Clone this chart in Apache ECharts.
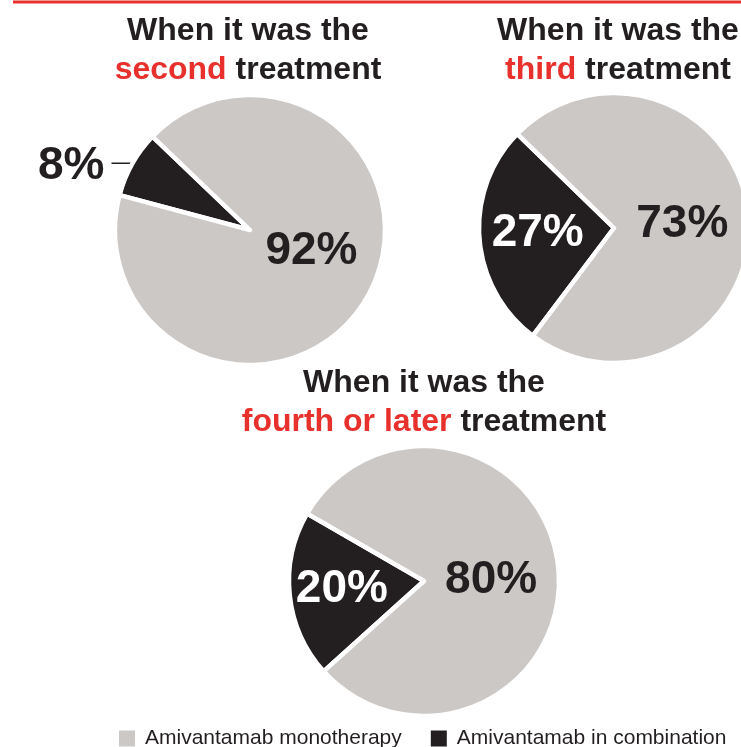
<!DOCTYPE html>
<html>
<head>
<meta charset="utf-8">
<script src="https://cdn.jsdelivr.net/npm/echarts@6/dist/echarts.min.js"></script>
<style>
html,body{margin:0;padding:0;background:#fff;}
#chart{width:741px;height:747px;}
</style>
</head>
<body>
<div id="chart"></div>
<script>
// ---- data ----
const categories = ['Amivantamab monotherapy', 'Amivantamab in combination'];
const secondTreatment = [92, 8];      // [monotherapy, combination]
const thirdTreatment = [73, 27];
const fourthOrLater = [80, 20];
const titleHighlights = ['second', 'third', 'fourth or later'];

const GRAY = '#cbc8c6', BLACK = '#231f20', RED = '#e8312c';
const FONT = '"Liberation Sans", Arial, sans-serif';

function pieData(vals, comboInside) {
  // combination slice first so startAngle controls its placement
  return [
    {
      name: categories[1], value: vals[1],
      itemStyle: { color: BLACK },
      label: comboInside
        ? { position: 'inside', color: '#ffffff' }
        : { position: 'outside', color: BLACK },
      labelLine: comboInside ? { show: false } : { show: true, length: 1, length2: 20, lineStyle: { color: BLACK, width: 1.5 } }
    },
    {
      name: categories[0], value: vals[0],
      itemStyle: { color: GRAY },
      label: { position: 'inside', color: BLACK },
      labelLine: { show: false }
    }
  ];
}

function pieSeries(vals, center, startAngle, comboInside, offsets) {
  return {
    type: 'pie',
    radius: 135,
    center: center,
    startAngle: startAngle,
    clockwise: true,
    avoidLabelOverlap: false,
    animation: false,
    emphasis: { scale: false },
    itemStyle: { borderColor: '#ffffff', borderWidth: 4.5 },
    label: {
      show: true,
      formatter: '{c}%',
      fontFamily: FONT,
      fontSize: 46,
      fontWeight: 'bold'
    },
    labelLayout: function (p) {
      const o = offsets[p.dataIndex];
      return o ? { dx: o[0], dy: o[1] } : {};
    },
    data: pieData(vals, comboInside)
  };
}

function makeTitle(highlight, left, top) {
  return {
    text: '{a|When it was the}\n{r|' + highlight + '}{a| treatment}',
    left: left, top: top, padding: 0,
    textAlign: 'center',
    textStyle: {
      fontFamily: FONT,
      rich: {
        a: { fontFamily: FONT, fontSize: 32, fontWeight: 'bold', color: BLACK, lineHeight: 39 },
        r: { fontFamily: FONT, fontSize: 32, fontWeight: 'bold', color: RED, lineHeight: 39 }
      }
    }
  };
}

const chart = echarts.init(document.getElementById('chart'), null, { renderer: 'canvas' });
chart.setOption({
  backgroundColor: '#ffffff',
  animation: false,
  title: [
    makeTitle(titleHighlights[0], 248, 12),
    makeTitle(titleHighlights[1], 618, 12),
    makeTitle(titleHighlights[2], 424, 364)
  ],
  legend: {
    data: [categories[0], categories[1]],
    left: 117, top: 728, padding: 0,
    icon: 'rect',
    itemWidth: 18, itemHeight: 18,
    itemGap: 27,
    selectedMode: false,
    textStyle: { fontFamily: FONT, fontSize: 21, color: BLACK, padding: [0, 0, 0, 4] }
  },
  graphic: [{
    type: 'line',
    shape: { x1: 13, y1: 2, x2: 741, y2: 2 },
    style: { stroke: RED, lineWidth: 3 }
  }],
  series: [
    pieSeries(secondTreatment, [250, 230], 165, false, [[-2, 3], [0, -13]]),
    pieSeries(thirdTreatment, [614, 228], 233, true, [[-6, 0], [-2, 2]]),
    pieSeries(fourthOrLater, [424, 581], 222, true, [[-12, 1], [-3, 7]])
  ]
});
</script>
</body>
</html>
